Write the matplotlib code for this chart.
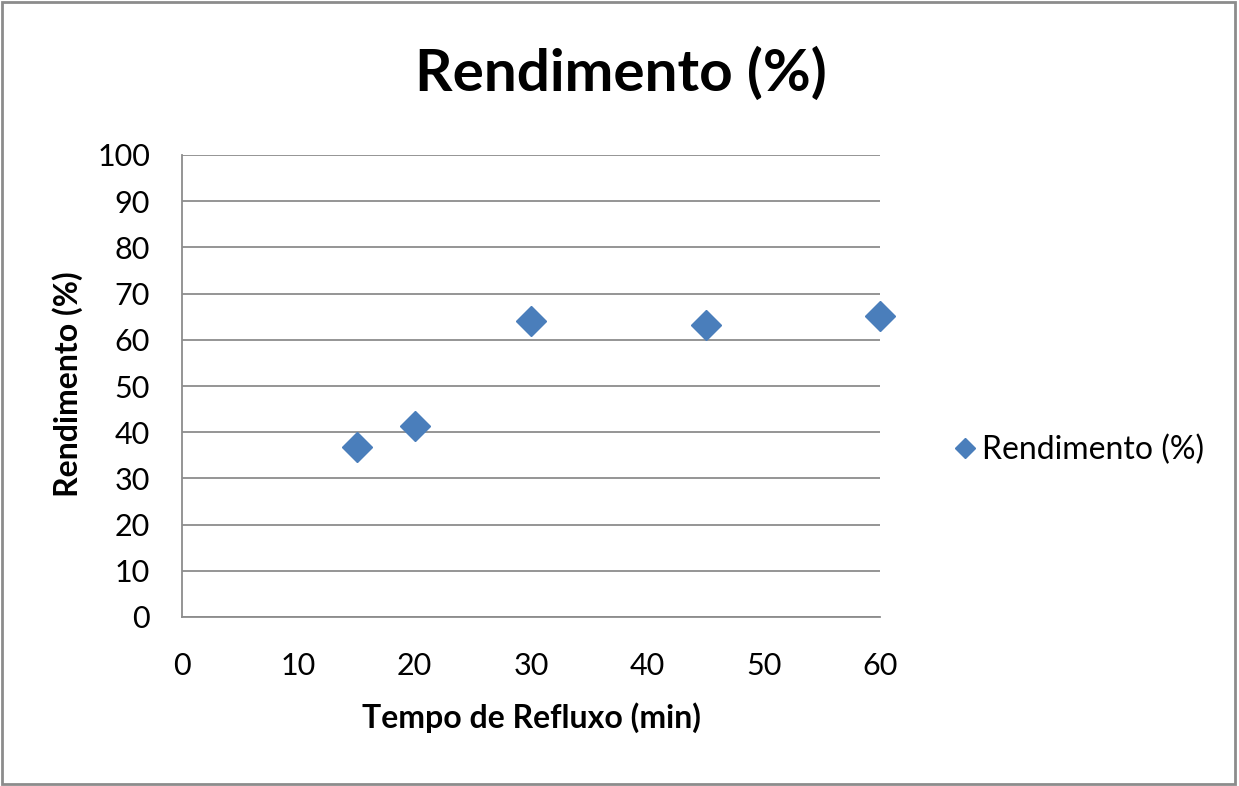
import matplotlib
matplotlib.use("Agg")
from matplotlib import pyplot as plt
from matplotlib.patches import Rectangle

# dados do grafico
tempo = [15, 20, 30, 45, 60]
rendimento = [36.8, 41.4, 64.0, 63.2, 65.1]
serie = 'Rendimento (%)'

plt.rcParams['font.family'] = ['Lato', 'DejaVu Sans']

fig = plt.figure(figsize=(12.39, 7.86), dpi=100)
W, H = 1239, 786
ax = fig.add_axes([182 / W, 1 - 617 / H, (880 - 182) / W, (617 - 155) / H])

ax.plot(tempo, rendimento, linestyle='none', marker='D', markersize=15,
        color='#4A7EBB', label=serie, clip_on=False, zorder=3)

ax.set_xlim(0, 60)
ax.set_ylim(0, 100)
ax.set_xticks(range(0, 61, 10))
ax.set_yticks(range(0, 101, 10))
ax.yaxis.grid(True, color='#8c8c8c', linewidth=1.3)
ax.set_axisbelow(True)
for s in ['top', 'right']:
    ax.spines[s].set_visible(False)
ax.spines['left'].set_color('#8c8c8c')
ax.spines['bottom'].set_color('#8c8c8c')
ax.spines['left'].set_linewidth(1.3)
ax.spines['bottom'].set_linewidth(1.3)
ax.tick_params(length=0, labelsize=22, colors='#000000')
ax.tick_params(axis='y', pad=23)
ax.tick_params(axis='x', pad=25)

fig.text(621 / W, 1 - 74 / H, 'Rendimento (%)', ha='center', va='center',
         fontsize=42, fontweight='bold')
fig.text(531 / W, 1 - 718 / H, 'Tempo de Refluxo (min)', ha='center', va='center',
         fontsize=23, fontweight='bold')
fig.text(68 / W, 1 - 384 / H, 'Rendimento (%)', ha='center', va='center',
         fontsize=23, fontweight='bold', rotation=90)

ax.legend(loc='center left', bbox_to_anchor=(939 / W, 1 - 450 / H),
          bbox_transform=fig.transFigure, frameon=False, fontsize=23,
          handlelength=0.8, handletextpad=0.15, markerscale=0.7, borderaxespad=0)

fig.patches.append(Rectangle((0.002, 0.003), 0.995, 0.994, transform=fig.transFigure,
                             fill=False, edgecolor='#8c8c8c', linewidth=2))

fig.savefig('out.png', dpi=100)
